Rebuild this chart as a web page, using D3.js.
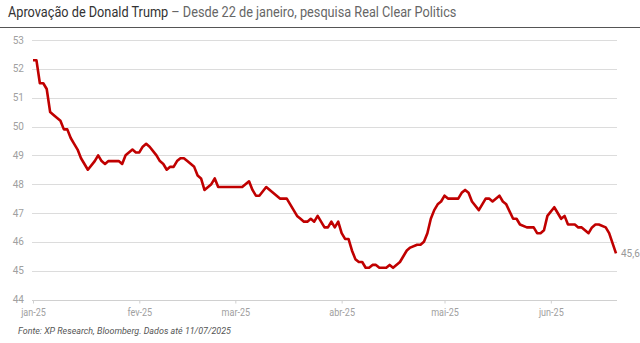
<!DOCTYPE html>
<html><head><meta charset="utf-8">
<script src="https://cdn.jsdelivr.net/npm/d3@7"></script>
<style>
html,body{margin:0;padding:0;background:#fff;}
svg{display:block;font-family:Roboto,"Noto Sans",sans-serif;}
</style></head>
<body>
<svg id="c" width="640" height="343"></svg>
<script>
const dates = ["2025-01-22","2025-01-23","2025-01-24","2025-01-25","2025-01-26","2025-01-27","2025-01-28","2025-01-30","2025-01-31",
"2025-02-01","2025-02-02","2025-02-03","2025-02-04","2025-02-05","2025-02-06","2025-02-07","2025-02-09","2025-02-10","2025-02-11","2025-02-12","2025-02-13","2025-02-16","2025-02-17","2025-02-18","2025-02-20","2025-02-21","2025-02-22","2025-02-23","2025-02-24","2025-02-25","2025-02-27","2025-02-28",
"2025-03-01","2025-03-02","2025-03-03","2025-03-04","2025-03-05","2025-03-06","2025-03-07","2025-03-08","2025-03-10","2025-03-11","2025-03-12","2025-03-13","2025-03-15","2025-03-16","2025-03-17","2025-03-24","2025-03-26","2025-03-27","2025-03-28","2025-03-29","2025-03-31",
"2025-04-02","2025-04-04","2025-04-06","2025-04-07","2025-04-08","2025-04-09","2025-04-10","2025-04-11","2025-04-12","2025-04-13","2025-04-14","2025-04-15","2025-04-16","2025-04-17","2025-04-18","2025-04-19","2025-04-20","2025-04-21","2025-04-22","2025-04-23","2025-04-24","2025-04-25","2025-04-26","2025-04-27","2025-04-28","2025-04-29","2025-04-30",
"2025-05-01","2025-05-02","2025-05-03","2025-05-05","2025-05-06","2025-05-07","2025-05-09","2025-05-10","2025-05-11","2025-05-12","2025-05-14","2025-05-15","2025-05-16","2025-05-17","2025-05-18","2025-05-19","2025-05-20","2025-05-21","2025-05-22","2025-05-23","2025-05-26","2025-05-27","2025-05-28","2025-05-29","2025-05-30",
"2025-06-01","2025-06-03","2025-06-04","2025-06-05","2025-06-07","2025-06-08","2025-06-09","2025-06-11","2025-06-12","2025-06-13","2025-06-15","2025-06-17","2025-06-18","2025-06-19","2025-06-20","2025-06-21","2025-06-23","2025-06-25","2025-06-26","2025-06-27","2025-06-29","2025-06-30",
"2025-07-01","2025-07-03","2025-07-04","2025-07-05","2025-07-06","2025-07-08","2025-07-09","2025-07-11"];
const approval = [52.3,52.3,51.5,51.5,51.3,50.5,50.4,50.2,49.9,
49.9,49.6,49.4,49.2,48.9,48.7,48.5,48.8,49.0,48.8,48.7,48.8,48.8,48.7,49.0,49.2,49.1,49.1,49.3,49.4,49.3,49.0,48.8,
48.7,48.5,48.6,48.6,48.8,48.9,48.9,48.8,48.6,48.3,48.2,47.8,48.0,48.2,47.9,47.9,48.1,47.8,47.6,47.6,47.9,
47.7,47.5,47.5,47.3,47.1,46.9,46.8,46.7,46.7,46.8,46.7,46.9,46.7,46.5,46.5,46.7,46.5,46.7,46.3,46.1,46.1,45.7,45.4,45.3,45.3,45.1,45.1,
45.2,45.2,45.1,45.1,45.2,45.1,45.3,45.5,45.7,45.8,45.9,45.9,46.0,46.3,46.8,47.1,47.3,47.4,47.6,47.5,47.5,47.7,47.8,47.7,47.4,
47.1,47.5,47.5,47.4,47.6,47.4,47.3,46.8,46.8,46.6,46.5,46.5,46.3,46.3,46.4,46.9,47.2,46.8,46.9,46.6,46.6,46.5,
46.5,46.3,46.5,46.6,46.6,46.5,46.3,45.6];
const yTicks = [44,45,46,47,48,49,50,51,52,53];
const xTickDates = ["2025-01-22","2025-02-22","2025-03-22","2025-04-22","2025-05-22","2025-06-22"];
const xTickLabels = ["jan-25","fev-25","mar-25","abr-25","mai-25","jun-25"];
const titleMain = "Aprovação de Donald Trump";
const titleSub = " – Desde 22 de janeiro, pesquisa Real Clear Politics";
const source = "Fonte: XP Research, Bloomberg. Dados até 11/07/2025";
const lastLabel = "45,6";

const parse = d3.utcParse("%Y-%m-%d");
const data = dates.map((d,i)=>({date:parse(d), v:approval[i]}));
const svg = d3.select("#c");

const x = d3.scaleUtc().domain([parse("2025-01-22"), parse("2025-07-11")]).range([33,616]);
const y = d3.scaleLinear().domain([44,53]).range([299.5,40]);
const gridX0 = 32, gridX1 = 617;

// title
const title = svg.append("text").attr("x",8).attr("y",17).attr("font-size",14.5);
title.append("tspan").attr("fill","#333").text(titleMain);
title.append("tspan").attr("fill","#666").text(titleSub);
const tw = title.node().getComputedTextLength();
title.attr("transform",`translate(8,0) scale(${449/tw},1) translate(-8,0)`);
svg.append("line").attr("x1",0).attr("x2",640).attr("y1",27.5).attr("y2",27.5).attr("stroke","#555").attr("stroke-width",1);

// gridlines
svg.append("g").selectAll("line").data(yTicks).join("line")
  .attr("x1",gridX0).attr("x2",gridX1)
  .attr("y1",d=>Math.round(y(d))+0.5).attr("y2",d=>Math.round(y(d))+0.5)
  .attr("stroke",d=>d===44?"#d0d0d0":"#dcdcdc").attr("stroke-width",1.2);

// y labels
svg.append("g").selectAll("text").data(yTicks).join("text")
  .attr("x",24).attr("y",d=>y(d)).attr("dy","0.35em").attr("text-anchor","end")
  .attr("font-size",10).attr("fill","#a0a0a0").text(d=>d);

// x axis
const xAxis = d3.axisBottom(x)
  .tickValues(xTickDates.map(parse))
  .tickFormat((d,i)=>xTickLabels[i])
  .tickSize(3).tickPadding(5);
const gx = svg.append("g").attr("transform",`translate(0,${Math.round(y(44))+0.5})`).call(xAxis);
gx.select(".domain").remove();
gx.selectAll(".tick line").attr("stroke","#d0d0d0");
gx.selectAll(".tick text").attr("fill","#a0a0a0").attr("font-size",10.5)
  .attr("font-family","Roboto,sans-serif").attr("transform","scale(0.86,1)");

// line
const line = d3.line().x(d=>x(d.date)).y(d=>y(d.v));
svg.append("path").datum(data).attr("d",line).attr("fill","none")
  .attr("stroke","#c00000").attr("stroke-width",2.6).attr("stroke-linejoin","round");

// end label
const last = data[data.length-1];
svg.append("text").attr("x",x(last.date)+5).attr("y",y(last.v)).attr("dy","0.35em")
  .attr("font-size",10).attr("fill","#999").text(lastLabel);

// source
const src = svg.append("text").attr("x",18).attr("y",334).attr("font-size",9.5)
  .attr("font-style","italic").attr("fill","#555").text(source);
const sw = src.node().getComputedTextLength();
src.attr("transform",`translate(18,0) scale(${213/sw},1) translate(-18,0)`);
</script>
</body></html>
